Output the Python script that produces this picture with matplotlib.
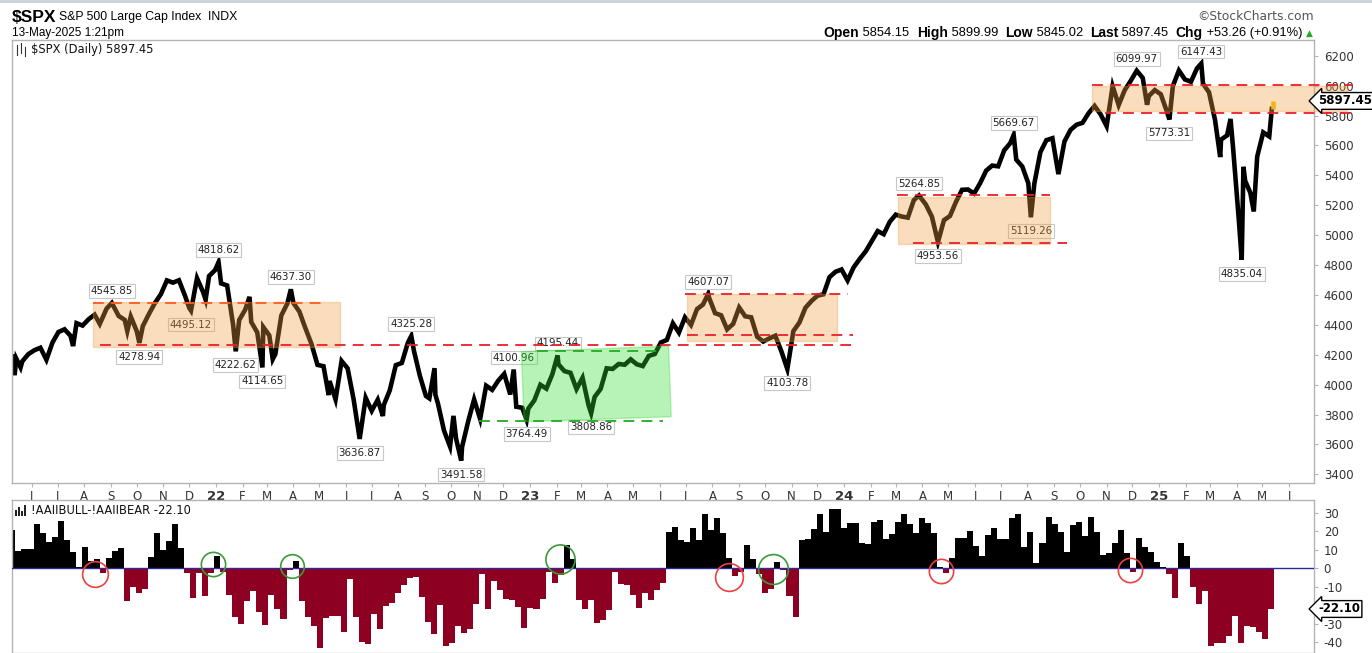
import matplotlib
matplotlib.use('Agg')
import matplotlib.pyplot as plt
import matplotlib.dates as mdates
from matplotlib.patches import Rectangle, Polygon
from matplotlib.lines import Line2D
import pandas as pd

plt.rcParams['axes.unicode_minus'] = False
plt.rcParams['font.family'] = ['DejaVu Sans']

W, H = 1372, 653

# ---- S&P 500 (approx. weekly closes plus the marked swing points) ----
price_dates = [
    '2021-05-10', '2021-05-12', '2021-05-14', '2021-05-19', '2021-05-21', '2021-05-28',
    '2021-06-04', '2021-06-11', '2021-06-18', '2021-06-25', '2021-07-02', '2021-07-09',
    '2021-07-16', '2021-07-19', '2021-07-23', '2021-07-30', '2021-08-06', '2021-08-13',
    '2021-08-19', '2021-08-27', '2021-09-02', '2021-09-10', '2021-09-17', '2021-09-20',
    '2021-09-24', '2021-10-01', '2021-10-04', '2021-10-08', '2021-10-15', '2021-10-22',
    '2021-10-29', '2021-11-05', '2021-11-12', '2021-11-19', '2021-11-26', '2021-12-01',
    '2021-12-03', '2021-12-10', '2021-12-17', '2021-12-20', '2021-12-24', '2021-12-31',
    '2022-01-04', '2022-01-07', '2022-01-14', '2022-01-21', '2022-01-24', '2022-01-28',
    '2022-02-04', '2022-02-09', '2022-02-11', '2022-02-18', '2022-02-24', '2022-02-25',
    '2022-03-04', '2022-03-08', '2022-03-11', '2022-03-18', '2022-03-25', '2022-03-29',
    '2022-04-01', '2022-04-08', '2022-04-14', '2022-04-22', '2022-04-29', '2022-05-06',
    '2022-05-12', '2022-05-13', '2022-05-20', '2022-05-27', '2022-06-03', '2022-06-10',
    '2022-06-17', '2022-06-24', '2022-07-01', '2022-07-08', '2022-07-14', '2022-07-15',
    '2022-07-22', '2022-07-29', '2022-08-05', '2022-08-12', '2022-08-16', '2022-08-19',
    '2022-08-26', '2022-09-02', '2022-09-06', '2022-09-12', '2022-09-13', '2022-09-16',
    '2022-09-23', '2022-09-30', '2022-10-04', '2022-10-07', '2022-10-13', '2022-10-14',
    '2022-10-21', '2022-10-28', '2022-11-04', '2022-11-11', '2022-11-18', '2022-11-25',
    '2022-12-02', '2022-12-09', '2022-12-13', '2022-12-16', '2022-12-23', '2022-12-28',
    '2022-12-30', '2023-01-06', '2023-01-13', '2023-01-20', '2023-01-27', '2023-02-02',
    '2023-02-03', '2023-02-10', '2023-02-17', '2023-02-24', '2023-03-03', '2023-03-10',
    '2023-03-13', '2023-03-17', '2023-03-24', '2023-03-31', '2023-04-07', '2023-04-14',
    '2023-04-21', '2023-04-28', '2023-05-05', '2023-05-12', '2023-05-19', '2023-05-26',
    '2023-06-02', '2023-06-09', '2023-06-16', '2023-06-23', '2023-06-30', '2023-07-07',
    '2023-07-14', '2023-07-21', '2023-07-27', '2023-07-28', '2023-08-04', '2023-08-11',
    '2023-08-18', '2023-08-25', '2023-09-01', '2023-09-08', '2023-09-15', '2023-09-22',
    '2023-09-29', '2023-10-06', '2023-10-13', '2023-10-20', '2023-10-27', '2023-11-03',
    '2023-11-10', '2023-11-17', '2023-11-24', '2023-12-01', '2023-12-08', '2023-12-15',
    '2023-12-22', '2023-12-29', '2024-01-05', '2024-01-12', '2024-01-19', '2024-01-26',
    '2024-02-02', '2024-02-09', '2024-02-16', '2024-02-23', '2024-03-01', '2024-03-08',
    '2024-03-15', '2024-03-22', '2024-03-28', '2024-04-05', '2024-04-12', '2024-04-19',
    '2024-04-26', '2024-05-03', '2024-05-10', '2024-05-17', '2024-05-24', '2024-05-31',
    '2024-06-07', '2024-06-14', '2024-06-21', '2024-06-28', '2024-07-05', '2024-07-12',
    '2024-07-16', '2024-07-19', '2024-07-26', '2024-08-02', '2024-08-05', '2024-08-09',
    '2024-08-16', '2024-08-23', '2024-08-30', '2024-09-06', '2024-09-13', '2024-09-20',
    '2024-09-27', '2024-10-04', '2024-10-11', '2024-10-18', '2024-10-25', '2024-11-01',
    '2024-11-08', '2024-11-15', '2024-11-22', '2024-11-29', '2024-12-06', '2024-12-13',
    '2024-12-18', '2024-12-20', '2024-12-27', '2025-01-03', '2025-01-10', '2025-01-13',
    '2025-01-17', '2025-01-24', '2025-01-31', '2025-02-07', '2025-02-14', '2025-02-19',
    '2025-02-21', '2025-02-28', '2025-03-07', '2025-03-13', '2025-03-14', '2025-03-21',
    '2025-03-25', '2025-03-28', '2025-04-04', '2025-04-07', '2025-04-09', '2025-04-11',
    '2025-04-17', '2025-04-21', '2025-04-25', '2025-05-02', '2025-05-09', '2025-05-12',
]
price_vals = [
    4188, 4063, 4174, 4115, 4156, 4204,
    4230, 4247, 4166, 4281, 4352, 4370,
    4327, 4258, 4411, 4395, 4437, 4468,
    4406, 4509, 4545.85, 4459, 4433, 4358,
    4455, 4357, 4278.94, 4391, 4471, 4545,
    4605, 4697, 4682, 4698, 4595, 4513,
    4495.12, 4712, 4620, 4568, 4726, 4766,
    4818.62, 4677, 4663, 4398, 4222.62, 4432,
    4501, 4587, 4419, 4349, 4114.65, 4385,
    4329, 4170, 4204, 4463, 4543, 4637.30,
    4546, 4488, 4392, 4272, 4132, 4123,
    3930, 4024, 3901, 4158, 4109, 3901,
    3636.87, 3912, 3825, 3899, 3790, 3863,
    3962, 4130, 4145, 4280, 4325.28, 4228,
    4058, 3924, 3908, 4110, 3932, 3873,
    3693, 3586, 3791, 3640, 3491.58, 3583,
    3752, 3901, 3770, 3993, 3965, 4026,
    4072, 3934, 4100.96, 3852, 3845, 3764.49,
    3840, 3895, 3999, 3973, 4071, 4195.44,
    4136, 4090, 4079, 3970, 4046, 3862,
    3808.86, 3917, 3971, 4109, 4105, 4138,
    4133, 4169, 4136, 4124, 4192, 4205,
    4282, 4299, 4410, 4348, 4450, 4399,
    4505, 4536, 4607.07, 4582, 4478, 4464,
    4370, 4406, 4516, 4457, 4450, 4320,
    4288, 4309, 4327, 4224, 4103.78, 4358,
    4415, 4514, 4559, 4595, 4604, 4719,
    4755, 4770, 4697, 4784, 4840, 4891,
    4959, 5027, 5006, 5089, 5137, 5124,
    5117, 5234, 5264.85, 5204, 5123, 4953.56,
    5100, 5128, 5223, 5303, 5305, 5278,
    5347, 5431, 5465, 5460, 5567, 5615,
    5669.67, 5505, 5459, 5347, 5119.26, 5344,
    5554, 5635, 5648, 5408, 5626, 5703,
    5738, 5751, 5815, 5864, 5808, 5729,
    5996, 5870, 5969, 6032, 6099.97, 6051,
    5872, 5930, 5970, 5942, 5827, 5773.31,
    5997, 6101, 6041, 6026, 6115, 6147.43,
    6013, 5955, 5770, 5522, 5639, 5667,
    5777, 5581, 5074, 4835.04, 5457, 5363,
    5283, 5158, 5525, 5687, 5660, 5844,
]

last_date = '2025-05-13'
last_open, last_high, last_low, last_close = 5854.15, 5899.99, 5845.02, 5897.45
last_chg, last_pct = 53.26, 0.91

# swing labels: date, value, above (1) / below (-1)
swing_dates = ['2021-09-02', '2021-10-04', '2021-12-03', '2022-01-04', '2022-01-24',
               '2022-02-24', '2022-03-29', '2022-06-17', '2022-08-16', '2022-10-13',
               '2022-12-13', '2022-12-28', '2023-02-02', '2023-03-13', '2023-07-27',
               '2023-10-27', '2024-03-28', '2024-04-19', '2024-07-16', '2024-08-05',
               '2024-12-06', '2025-01-13', '2025-02-19', '2025-04-07']
swing_vals = [4545.85, 4278.94, 4495.12, 4818.62, 4222.62, 4114.65, 4637.30, 3636.87,
              4325.28, 3491.58, 4100.96, 3764.49, 4195.44, 3808.86, 4607.07, 4103.78,
              5264.85, 4953.56, 5669.67, 5119.26, 6099.97, 5773.31, 6147.43, 4835.04]
swing_side = [1, -1, -1, 1, -1, -1, 1, -1, 1, -1, 1, -1, 1, -1, 1, -1,
              1, -1, 1, -1, 1, -1, 1, -1]

# ---- AAII bull minus bear spread, weekly ----
aaii_end = '2025-05-08'
aaii_vals = [
    20.8, 9.6, 10.3, 10.3, 23.9, 19.0, 14.5, 16.8, 25.7, 15.4, 8.7, 0.5,
    11.4, 4.0, 5.2, -2.4, 5.8, 9.4, 11.2, -17.5, -10.3, -13.6, -11.2, 6.0,
    19.0, 10.0, 14.8, 23.9, 11.2, -2.4, -16.3, -2.7, -15.0, -2.7, 6.7, -1.8,
    -14.5, -26.2, -30.4, -17.5, -12.3, -24.0, -31.0, -14.5, -22.2, -27.5, -1.0, 4.0,
    -17.5, -26.2, -31.6, -43.4, -26.8, -25.9, -25.9, -34.4, -6.0, -26.2, -39.8, -41.0,
    -25.0, -33.0, -20.4, -18.6, -13.2, -9.0, -5.4, -4.9, -15.7, -29.0, -35.6, -19.9,
    -42.0, -40.7, -31.6, -35.4, -33.0, -19.2, -3.3, -21.9, -6.9, -11.8, -16.8, -17.2,
    -20.8, -32.2, -21.3, -21.9, -16.5, -2.0, -8.1, -3.8, 12.5, 4.9, -17.2, -21.9,
    -17.2, -29.5, -28.0, -22.6, -2.0, -8.7, -9.2, -14.6, -21.3, -13.2, -17.2, -11.8,
    -7.8, 19.7, 22.6, 15.2, 14.5,
    22.0, 15.2, 29.3, 20.6, 27.1, 19.3, 5.8, -4.2, -2.0, 12.5, 4.9, -3.3,
    -13.2, -11.4, 3.6, -0.9, -14.8, -26.2, 15.2, 16.1, 21.5, 29.3, 19.9, 32.4,
    32.4, 21.7, 24.4, 24.4, 13.9, 13.4, 25.1, 26.2, 15.7, 18.4, 25.3, 29.3,
    23.9, 19.3, 27.5, 24.8, 19.3,
    0.8, -2.4, 5.4, 16.6, 16.6, 20.2, 12.1, 6.7, 18.1, 21.7, 15.7, 15.7,
    27.1, 29.3, 11.4, 19.5, 2.7, 13.6, 27.7, 24.0, 19.9, 9.0, 23.5, 25.3,
    17.5, 27.7, 19.5, 7.2, 8.1, 13.6, 20.8, 8.1, -2.2, 16.6, 11.4, 8.7,
    3.6, 0.9, -3.3, -16.3, 13.6, 6.7, -10.3, -19.3, -12.3, -42.0, -40.3, -40.3,
    -37.0, -25.9, -40.3, -31.6, -32.0, -34.7, -38.5, -22.1,
]

# circled readings in the sentiment panel (date, value, colour, size in pt)
circle_dates = ['2021-08-13', '2021-12-28', '2022-03-30', '2023-02-05',
                '2023-08-20', '2023-10-10', '2024-04-23', '2024-11-28']
circle_vals = [-3.1, 2.3, 1.2, 5.0, -4.6, -0.5, -1.5, -0.9]
circle_cols = ['r', 'g', 'g', 'g', 'r', 'g', 'r', 'r']
circle_size = [18.5, 17.5, 17, 21, 20, 21.5, 17.5, 17.5]

RED = '#e8202a'
ORANGE = '#f0a040'
GREEN = '#33dd33'

fig = plt.figure(figsize=(W / 100, H / 100), dpi=100)
ax1 = fig.add_axes([12 / W, 1 - 483 / H, 1302 / W, 443 / H])
ax2 = fig.add_axes([12 / W, 0, 1302 / W, 153 / H])

d = pd.to_datetime(price_dates)
ax1.plot(d, price_vals, color='black', lw=3.3, zorder=2, solid_joinstyle='miter')
ax1.vlines(pd.Timestamp(last_date), last_low, last_high, color='#f2c200', lw=3.3, zorder=3)

# swing point labels
for sd, sv, ss in zip(swing_dates, swing_vals, swing_side):
    ax1.annotate(f'{sv:.2f}', xy=(pd.Timestamp(sd), sv), xytext=(0, 12 if ss > 0 else -14),
                 textcoords='offset pixels', ha='center', va='center', fontsize=7.4,
                 color='#222222', zorder=3,
                 bbox=dict(boxstyle='square,pad=0.18', fc='white', ec='#c8c8c8', lw=0.8))

T = pd.Timestamp
def box(x0, x1, y0, y1, col):
    x0n, x1n = mdates.date2num(T(x0)), mdates.date2num(T(x1))
    ax1.add_patch(Rectangle((x0n, y0), x1n - x0n, y1 - y0, fc=col, ec=col, alpha=0.35,
                            lw=1, zorder=4, clip_on=False))

def hline(x0, x1, y, col):
    ax1.plot([T(x0), T(x1)], [y, y], color=col, lw=1.3, ls=(0, (6, 4)), zorder=5, clip_on=False)

box('2021-08-11', '2022-05-25', 4253, 4550, ORANGE)
box('2023-07-02', '2023-12-24', 4294, 4604, ORANGE)
box('2024-03-04', '2024-08-27', 4940, 5257, ORANGE)
box('2024-10-15', '2025-08-07', 5830, 5995, ORANGE)
gpts = [(mdates.date2num(T(a)), b) for a, b in
        [('2022-12-22', 4220), ('2023-06-11', 4258), ('2023-06-14', 3785), ('2022-12-25', 3752)]]
ax1.add_patch(Polygon(gpts, closed=True, fc=GREEN, ec=GREEN, alpha=0.35, lw=1, zorder=4))

hline('2021-08-11', '2022-05-07', 4545.85, '#ff5a1e')
hline('2021-08-19', '2024-01-09', 4265, RED)
hline('2023-06-30', '2024-01-05', 4607.07, RED)
hline('2023-07-02', '2024-01-11', 4330, RED)
hline('2023-01-09', '2023-06-04', 4225, '#22aa22')
hline('2022-11-03', '2023-06-04', 3755, '#22aa22')
hline('2024-03-02', '2024-08-27', 5266, RED)
hline('2024-03-21', '2024-09-16', 4945, RED)
hline('2024-10-15', '2025-08-14', 6005, RED)
hline('2024-10-30', '2025-08-19', 5820, RED)

xmin, xmax = T('2021-05-09'), T('2025-06-30')
for ax in (ax1, ax2):
    ax.set_xlim(xmin, xmax)
    for s in ax.spines.values():
        s.set_color('#b4b4b4')
        s.set_linewidth(1)
    ax.yaxis.tick_right()
    ax.tick_params(axis='y', colors='#b4b4b4', labelcolor='#333333', labelsize=8.5,
                   length=3, pad=4)

ax1.set_ylim(3342, 6305)
ax1.set_yticks(range(3400, 6201, 200))
ax1.set_yticklabels([str(v) for v in range(3400, 6201, 200)])

months = pd.date_range('2021-06-01', '2025-06-01', freq='MS')
ax1.set_xticks(months)
ax1.set_xticklabels([m.strftime('%y') if m.month == 1 else m.strftime('%b')[0] for m in months])
ax1.tick_params(axis='x', colors='#b4b4b4', labelcolor='#333333', labelsize=8.5, length=3, pad=2)
for lbl in ax1.get_xticklabels():
    if lbl.get_text().isdigit():
        lbl.set_fontweight('bold')
        lbl.set_fontsize(9.5)

# sentiment bars
ad = pd.date_range(end=aaii_end, periods=len(aaii_vals), freq='7D')
cols = ['black' if v >= 0 else '#8e0022' for v in aaii_vals]
ax2.bar(ad, aaii_vals, width=7, align='edge', color=cols, lw=0, zorder=2)
ax2.axhline(0, color='#2a2a9a', lw=1.0, zorder=3)
ax2.set_ylim(-46, 37.1)
ax2.set_yticks(range(-40, 31, 10))
# -20 sits under the value tag, as in the source chart
ax2.set_yticklabels(['' if v == -20 else str(v) for v in range(-40, 31, 10)])
ax2.set_xticks([])
for cd, cv, cc, cs in zip(circle_dates, circle_vals, circle_cols, circle_size):
    ax2.plot(T(cd), cv, 'o', ms=cs, mfc='none', mec='#ee4040' if cc == 'r' else '#3a9a3a',
             mew=1.2, zorder=4)

# right-hand value tags
tag = dict(boxstyle='larrow,pad=0.16', fc='white', ec='black', lw=1)
ax1.annotate(f'{last_close:.2f}', xy=(1.0, last_close), xycoords=('axes fraction', 'data'),
             xytext=(4, 0), textcoords='offset pixels', ha='left', va='center',
             fontsize=8.5, fontweight='bold', bbox=tag, annotation_clip=False, zorder=6)
ax2.annotate(f'{aaii_vals[-1]:.2f}', xy=(1.0, aaii_vals[-1]), xycoords=('axes fraction', 'data'),
             xytext=(4, 0), textcoords='offset pixels', ha='left', va='center',
             fontsize=8.5, fontweight='bold', bbox=tag, annotation_clip=False, zorder=6)

# header
def fx(px):
    return px / W

def fy(py):
    return 1 - py / H

fig.add_artist(Line2D([0, 1], [fy(1), fy(1)], color='#c9d2da', lw=2))
fig.text(fx(12), fy(17), '$SPX', fontsize=12.5, fontweight='bold', family='Liberation Sans',
         va='center')
fig.text(fx(59), fy(17), 'S&P 500 Large Cap Index  INDX', fontsize=8.8,
         family='Liberation Sans', va='center')
fig.text(fx(12), fy(33), '13-May-2025 1:21pm', fontsize=8.5, family='Liberation Sans',
         va='center')
fig.text(fx(1314), fy(17), '\u00a9StockCharts.com', fontsize=8.8, color='#555555',
         family='DejaVu Sans', ha='right', va='center')

fig.canvas.draw()
rend = fig.canvas.get_renderer()
parts = [('Open', 'bold'), (f' {last_open:.2f}  ', 'normal'),
         ('High', 'bold'), (f' {last_high:.2f}  ', 'normal'),
         ('Low', 'bold'), (f' {last_low:.2f}  ', 'normal'),
         ('Last', 'bold'), (f' {last_close:.2f}  ', 'normal'),
         ('Chg', 'bold'), (f' +{last_chg:.2f} (+{last_pct:.2f}%) ', 'normal')]
t = fig.text(fx(1313), fy(33), '\u25b2', fontsize=6.5, color='#22aa22', ha='right', va='center',
             family='DejaVu Sans')
xcur = t.get_window_extent(renderer=rend).x0
for s, w in reversed(parts):
    t = fig.text(xcur / W, fy(33), s, fontsize=10 if w == 'bold' else 9.3, fontweight=w,
                 family='Liberation Sans', ha='right', va='center')
    xcur = t.get_window_extent(renderer=rend).x0

# panel captions with tiny icons
fig.text(fx(31), fy(50), '$SPX (Daily) 5897.45', fontsize=8.3, va='center', color='#111111')
for i, (lo, hi) in enumerate([(45, 55), (43, 53), (47, 56)]):
    xx = fx(17 + i * 4)
    fig.add_artist(Line2D([xx, xx], [fy(hi), fy(lo)], color='#333333', lw=0.8))
fig.text(fx(31), fy(510), '!AAIIBULL-!AAIIBEAR -22.10', fontsize=8.3, va='center', color='#111111')
for i, hgt in enumerate([6, 9, 5, 11]):
    fig.add_artist(Rectangle((fx(15 + i * 3), fy(516)), 2.2 / W, hgt / H, color='#222222', lw=0))

fig.savefig('out.png', dpi=100)
